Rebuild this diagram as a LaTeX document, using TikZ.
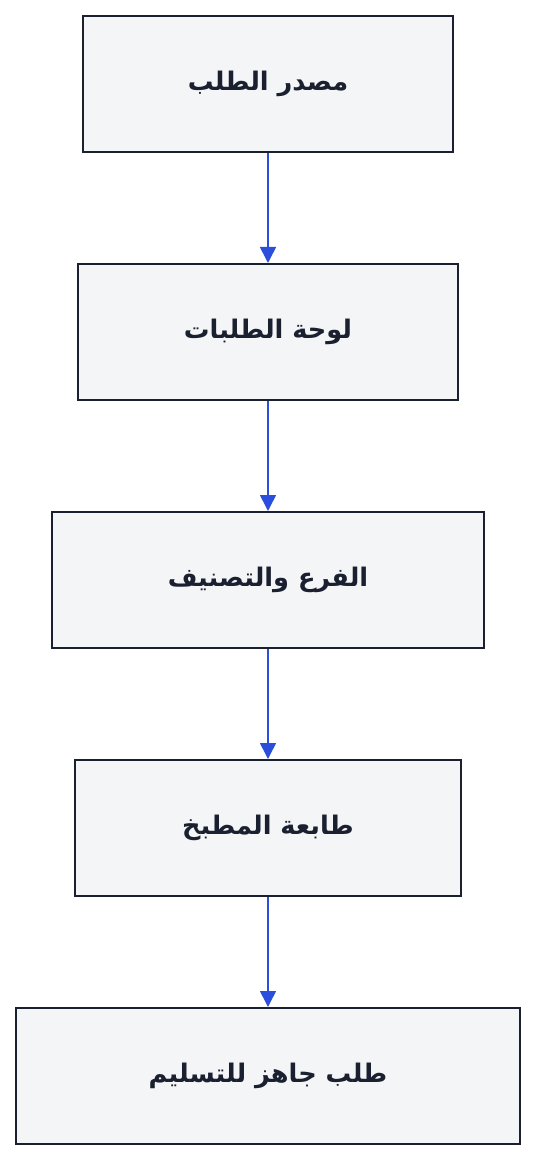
\documentclass[tikz,border=0pt]{standalone}
\usepackage{fontspec}
\usetikzlibrary{positioning,arrows.meta}
\TeXXeTstate=1
\newfontfamily\arabicfont[Script=Arabic]{DejaVu Sans}
\definecolor{boxfill}{HTML}{F4F5F7}
\definecolor{boxline}{HTML}{1A2030}
\definecolor{flowblue}{HTML}{2B4FDC}

\begin{document}
\begin{tikzpicture}[node distance=55pt,
                    >={Triangle[length=8pt,width=8pt]}]
  \tikzset{stagebox/.style={draw=boxline,fill=boxfill,line width=1pt,
           minimum height=68pt,inner sep=0pt,text=boxline,
           font=\arabicfont\bfseries\fontsize{12.8}{15}\selectfont},
           flow/.style={->,draw=flowblue,line width=0.8pt}}
  \useasboundingbox (0,0) rectangle (268pt,-580pt);

  \node[stagebox,minimum width=185pt] (source) at (134pt,-42pt) {\beginR مصدر الطلب\endR};
  \node[stagebox,minimum width=190pt] (board)   [below=of source] {\beginR لوحة الطلبات\endR};
  \node[stagebox,minimum width=216pt] (sorting) [below=of board]  {\beginR الفرع والتصنيف\endR};
  \node[stagebox,minimum width=193pt] (printer) [below=of sorting] {\beginR طابعة المطبخ\endR};
  \node[stagebox,minimum width=252pt] (ready)   [below=of printer] {\beginR طلب جاهز للتسليم\endR};

  \draw[flow] (source) -- (board);
  \draw[flow] (board) -- (sorting);
  \draw[flow] (sorting) -- (printer);
  \draw[flow] (printer) -- (ready);
\end{tikzpicture}
\end{document}
